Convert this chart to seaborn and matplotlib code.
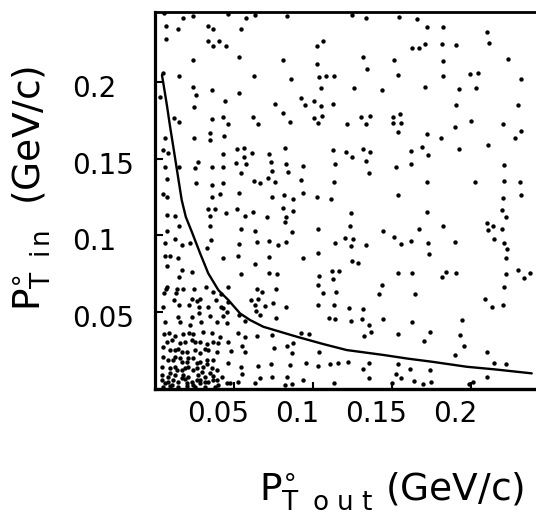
import numpy as np
import pandas as pd
import matplotlib
matplotlib.use("Agg")
import matplotlib.pyplot as plt
import matplotlib.transforms as mtransforms
import seaborn as sns

# ---- data (in MeV/c) ----
# events, grouped by area of the plot: (P_T out, P_T in)
events_upper_left = [
    (5.7,244.8),(17.9,242.0),(24.3,243.3),(46.0,244.4),(57.6,242.0),(63.5,243.7),(83.8,243.0),
    (6.8,236.5),(14.8,234.6),(33.3,236.3),(36.9,234.8),(54.6,234.4),
    (6.8,227.8),(33.3,227.0),(40.5,227.0),(36.9,223.7),(45.2,223.3),(102.3,223.7),(106.6,227.0),
    (23.8,214.6),(53.4,216.1),(81.2,214.1),(102.8,211.5),
    (4.9,206.1),(15.2,204.1),(62.7,204.1),(85.9,202.2),(103.6,203.3),(108.5,204.1),(113.5,204.1),
    (23.8,197.0),(36.1,194.6),(53.0,193.1),(105.3,195.9),(26.2,191.3),(3.4,190.0),
    (44.5,187.4),(75.7,185.4),(92.4,189.8),(100.4,187.6),(95.0,185.0),(105.3,184.6),(112.9,185.4),
    (24.9,183.7),(81.2,179.6),(12.0,176.3),(15.0,174.1),(36.1,176.1),(42.8,177.2),(46.0,172.8),
    (61.8,177.0),(65.4,172.8),(85.5,174.1),(100.4,176.3),(103.0,173.5),(105.5,178.1),
    (6.5,163.7),(24.5,163.5),(34.8,166.5),(35.0,162.0),(43.9,164.8),
    (4.9,155.7),(8.4,153.9),(51.7,156.3),(56.5,157.0),(61.2,153.7),(43.0,153.3),(56.5,151.3),
    (72.2,153.3),(82.1,157.0),(112.5,155.9),
    (6.3,144.8),(15.4,144.8),(25.1,143.7),(27.0,147.6),(36.1,144.4),(43.0,144.4),(51.5,147.2),
    (57.6,146.5),(73.6,148.0),(82.9,146.5),(93.5,145.4),(113.9,146.5),
    (54.6,140.4),(74.1,142.2),(84.0,141.5),
    (7.4,136.5),(26.0,134.4),(36.1,133.0),(43.0,134.1),(62.7,135.7),(66.5,134.1),(71.7,137.6),
    (76.0,134.6),(92.2,136.1),(113.1,134.8),
]
events_upper_right = [
    (124.5,243.7),(133.6,241.5),(154.7,242.6),(166.1,241.1),(172.0,236.1),(182.1,235.7),
    (209.9,232.6),(211.4,225.7),
    (162.7,222.4),(166.9,222.4),(170.7,224.6),(181.9,224.8),(190.7,224.1),
    (131.5,216.1),(151.5,214.4),(182.1,213.5),(223.2,215.0),(134.0,208.5),
    (154.0,204.6),(182.1,204.1),(199.4,205.0),(204.5,205.7),(231.5,202.0),
    (126.0,196.3),(143.7,195.0),(170.9,196.7),(192.4,195.2),(203.4,195.9),
    (190.7,185.0),(230.0,185.0),
    (130.2,177.4),(136.3,177.8),(150.9,177.0),(154.9,178.9),(121.5,172.8),(133.8,172.8),
    (150.7,173.1),(155.7,173.3),(200.2,174.8),(220.3,172.8),(190.1,170.9),
    (153.8,167.6),(172.0,166.3),(181.2,163.7),(231.3,168.1),(227.9,163.7),(210.8,158.9),
    (120.7,154.6),(124.5,150.9),(131.9,156.3),(136.1,154.4),(133.6,148.5),(162.3,155.0),
    (169.2,157.4),(172.8,152.6),(192.6,156.1),
    (161.8,146.7),(152.6,144.6),(220.7,145.7),(135.7,140.9),
    (172.4,134.8),(202.8,135.0),(220.9,135.7),(230.8,135.0),
]
events_lower_left = [
    (5.3,126.7),(7.8,124.8),(35.9,124.8),(41.4,126.7),(53.2,127.4),(73.9,125.2),(81.9,126.3),
    (87.1,123.7),(93.5,127.4),(102.8,124.8),(111.4,123.7),
    (33.3,117.2),(38.0,117.2),(44.7,114.8),(52.1,117.2),(62.2,115.4),(80.8,117.6),(87.1,116.1),
    (7.4,113.3),(12.9,112.8),(34.8,112.6),(56.8,112.6),(71.1,112.2),(82.7,111.7),(82.1,108.7),
    (15.4,106.1),(34.8,106.1),(7.8,103.0),(54.6,103.9),(63.3,103.0),(86.7,102.2),(103.0,104.4),
    (12.7,97.4),(6.3,94.8),(17.3,93.7),(22.2,94.8),(35.4,97.0),(32.9,91.5),(53.2,94.4),
    (64.4,95.4),(72.2,96.3),(77.9,93.9),(82.7,95.4),(113.9,94.8),
    (6.5,86.7),(9.5,86.5),(14.8,85.0),(42.8,85.4),(52.5,86.5),(72.2,85.9),(93.9,85.0),(103.4,88.3),
    (7.8,80.0),(63.5,81.5),(17.3,77.4),(23.2,75.9),(15.2,72.6),(54.6,74.6),(72.4,75.2),
    (77.4,74.6),(112.0,76.7),(116.7,76.7),(104.0,73.5),(112.5,71.5),
    (7.8,66.5),(6.8,65.0),(13.7,65.2),(17.5,65.0),(24.7,64.8),(32.3,66.1),(46.0,66.1),
    (64.8,64.8),(76.6,64.8),(103.4,67.6),
    (5.7,62.6),(13.3,62.2),(36.9,63.3),(42.0,61.7),(67.5,62.8),(106.3,62.2),(114.6,62.8),
    (12.2,57.8),(23.2,58.5),(26.4,57.4),(28.5,58.5),(38.4,57.8),(46.4,56.7),(60.8,57.8),
    (65.0,58.7),(74.7,56.1),
    (5.3,53.5),(15.2,54.6),(21.5,54.6),(28.1,53.5),(33.8,53.0),(41.8,53.0),(63.3,54.6),
    (69.4,53.9),(82.9,53.0),(103.0,54.4),(113.3,54.8),
    (14.3,47.0),(23.2,47.0),(28.1,49.6),(34.8,47.4),(42.8,52.4),(42.8,47.4),(53.4,48.0),
    (63.7,50.9),(66.5,47.8),(76.6,45.9),(110.4,45.9),(113.9,45.2),
    (6.5,43.7),(15.8,43.7),(22.2,41.5),(28.9,43.7),(39.0,43.3),(45.8,43.0),(56.8,44.1),(45.4,50.2),
    (5.7,35.7),(9.1,36.1),(12.7,34.6),(17.9,35.7),(21.7,36.5),(23.8,35.7),(30.6,37.2),
    (35.9,36.1),(41.1,33.9),(52.8,36.1),(57.0,33.9),(64.4,34.6),(73.9,35.0),(92.2,36.1),(97.7,35.7),
    (7.4,30.7),(15.8,30.0),(25.3,30.7),(32.7,29.1),(46.4,30.7),(54.9,27.8),(75.3,26.3),
    (83.3,27.8),(87.6,29.6),
    (5.3,27.4),(9.5,25.2),(14.8,25.7),(20.0,24.1),(28.5,23.5),(31.7,25.7),(39.0,24.1),
    (48.1,24.3),(57.0,24.1),(86.5,23.0),(104.0,24.1),
    (5.3,20.9),(8.4,18.7),(12.7,20.9),(16.9,17.6),(21.1,19.8),(26.4,16.5),(32.7,16.1),
    (36.9,18.7),(46.4,16.5),(54.2,14.3),(65.4,15.0),(73.2,16.1),(85.5,15.4),(95.4,17.0),
    (103.4,14.8),(110.8,16.1),(116.1,17.0),
    (4.2,14.3),(9.5,13.3),(13.7,12.2),(19.0,13.3),(24.3,12.2),(29.5,11.1),(34.8,10.4),
    (42.2,7.8),(54.9,9.3),(66.5,7.2),(73.9,7.8),(83.3,7.8),(93.5,5.7),
    (4.6,8.9),(8.4,7.8),(12.7,8.9),(16.9,6.7),(21.1,7.8),(26.4,5.7),(31.7,4.6),(36.9,5.7),
    (47.5,3.9),(52.8,4.6),(63.3,3.9),(82.3,2.4),(86.5,2.8),(113.3,3.5),
    (6.3,3.9),(10.5,2.4),(14.8,4.6),(20.0,3.5),(24.3,2.4),(28.5,3.9),(40.1,2.4),(45.4,3.5),
]
events_corner = [
    (10.5,31.7),(19.0,30.7),(23.2,31.7),(28.5,30.7),(36.9,30.7),(40.1,29.6),
    (12.7,25.2),(16.9,24.1),(25.3,25.2),(33.8,25.2),
    (11.6,18.7),(15.8,19.8),(20.0,17.6),(24.3,19.8),(28.5,17.6),(32.7,18.7),
    (12.7,14.3),(16.9,12.2),(21.1,14.3),(26.4,13.3),(30.6,14.3),(35.9,13.3),(39.0,12.2),
    (9.5,10.0),(17.9,8.9),(27.4,8.9),(31.7,7.8),(36.9,8.3),
    (4.2,5.7),(8.4,4.6),(11.6,5.7),(19.0,6.1),(23.2,4.6),(28.5,5.7),(33.8,4.6),(39.0,5.7),
    (5.3,1.3),(9.5,1.7),(14.8,0.9),(20.0,1.7),(25.3,0.9),(31.7,1.3),(38.0,1.3),
]
events_lower_right = [
    (154.0,126.3),(220.5,124.1),(231.5,126.5),(123.9,114.4),(172.0,115.0),(219.4,116.5),
    (222.2,111.7),(210.4,108.3),(214.2,106.3),(123.2,105.9),(182.1,106.1),(144.5,103.0),
    (167.3,104.1),(211.0,103.5),(219.9,103.9),
    (120.1,98.0),(125.1,97.8),(151.5,98.7),(214.6,97.4),(124.1,93.0),(133.6,93.5),(155.9,94.6),
    (161.8,96.5),(173.0,95.2),(189.7,95.9),(220.9,95.2),(223.0,90.9),(173.4,87.8),
    (124.5,83.5),(128.7,82.2),(222.2,85.4),(154.0,75.2),(162.7,75.2),(181.5,73.0),(184.2,75.9),
    (190.5,75.7),(222.2,74.8),(229.6,77.4),(233.2,72.0),(237.6,75.2),
    (143.5,67.6),(142.0,62.0),(164.6,61.7),(220.9,66.5),(208.9,58.3),(213.1,53.5),(220.3,54.4),
    (122.6,52.8),(131.7,52.0),
    (123.9,44.3),(131.2,45.2),(144.1,45.7),(162.7,43.5),(194.1,44.8),(135.5,41.7),(136.5,37.2),
    (132.5,34.3),(153.6,35.4),(174.1,37.2),(193.1,34.8),(170.5,31.3),(195.8,27.8),(190.1,22.2),
    (209.9,23.7),
    (122.2,17.4),(135.5,17.0),(153.6,16.1),(214.8,17.0),(222.2,15.9),(131.7,12.8),(161.6,12.6),
    (174.1,12.2),(135.2,7.2),(152.6,9.3),(155.7,7.2),(163.9,5.0),(169.6,3.0),(174.7,4.1),
    (150.2,3.9),(201.1,4.6),(199.0,3.0),(209.9,7.8),
]
# boundary curve (MeV/c)
curve_p_out = [4.4, 5.3, 7.5, 9.6, 12.0, 14.6, 16.9, 19.5, 23.4, 28.5, 33.7, 40.1, 46.4, 53.8,
               60.1, 68.5, 81.2, 89.7, 106.5, 121.3, 144.5, 160.0, 175.1, 197.3, 215.0, 238.4]
curve_p_in = [204.5, 199.0, 185.0, 170.5, 155.0, 138.0, 123.0, 112.0, 102.0, 88.4, 75.2, 64.3,
              57.8, 49.1, 44.8, 40.4, 36.5, 33.9, 29.1, 25.2, 22.0, 19.6, 17.6, 14.3, 12.6, 10.0]

x_ticks = [0.05, 0.1, 0.15, 0.2]
x_tick_labels = ["0.05", "0.1", "0.15", "0.2"]
y_ticks = [0.05, 0.1, 0.15, 0.2]
y_tick_labels = ["0.05", "0.1", "0.15", "0.2"]

# ---- build tables ----
all_events = (events_upper_left + events_upper_right + events_lower_left
              + events_corner + events_lower_right)
df = pd.DataFrame(all_events, columns=["p_out", "p_in"]) / 1000.0   # GeV/c
curve = pd.DataFrame({"p_out": np.array(curve_p_out) / 1000.0,
                      "p_in": np.array(curve_p_in) / 1000.0})

sns.set_theme(style="white")
plt.rcParams["font.family"] = ["DejaVu Sans"]
plt.rcParams["mathtext.fontset"] = "dejavusans"
plt.rcParams["text.color"] = "black"
plt.rcParams["xtick.color"] = "black"
plt.rcParams["ytick.color"] = "black"
plt.rcParams["xtick.labelcolor"] = "black"
plt.rcParams["ytick.labelcolor"] = "black"

W, H = 536, 521
fig = plt.figure(figsize=(W / 100, H / 100), dpi=100)
fig.patch.set_facecolor("white")
ax = fig.add_axes([155 / W, (H - 388.7) / H, (W - 155) / W, (388.7 - 12) / H])
ax.set_facecolor("white")

sns.scatterplot(data=df, x="p_out", y="p_in", color="black", s=10, linewidth=0,
                marker="o", legend=False, ax=ax)
sns.lineplot(data=curve, x="p_out", y="p_in", sort=False, color="black",
             linewidth=1.7, ax=ax)

ax.set_xlim(0, 0.2411)
ax.set_ylim(0, 0.2456)
ax.set_xlabel("")
ax.set_ylabel("")

for side, lw in [("left", 2.3), ("top", 2.0), ("bottom", 2.4)]:
    ax.spines[side].set_visible(True)
    ax.spines[side].set_color("black")
    ax.spines[side].set_linewidth(lw)
ax.spines["right"].set_visible(False)

ax.set_xticks(x_ticks)
ax.set_xticklabels(x_tick_labels)
ax.set_yticks(y_ticks)
ax.set_yticklabels(y_tick_labels)
ax.tick_params(axis="x", direction="in", length=5, width=1.5, colors="black",
               labelsize=20, pad=8, bottom=True, top=False)
ax.tick_params(axis="y", direction="in", length=6, width=1.5, colors="black",
               labelsize=20, pad=60, left=True, right=False)

dx = mtransforms.ScaledTranslation(-16 / 100, 0, fig.dpi_scale_trans)
for lab in ax.get_xticklabels():
    lab.set_transform(lab.get_transform() + dx)
dy = mtransforms.ScaledTranslation(0, -4 / 100, fig.dpi_scale_trans)
for lab in ax.get_yticklabels():
    lab.set_horizontalalignment("left")
    lab.set_transform(lab.get_transform() + dy)

fig.text(259 / W, (H - 500) / H,
         r"$\mathrm{P}^{\circ}_{\mathrm{T\;\;o\,\,u\,\,t}}$ (GeV/c)",
         fontsize=27, ha="left", va="baseline", color="black")
fig.text(32 / W, (H - 188) / H,
         r"$\mathrm{P}^{\circ}_{\mathrm{T\;\;i\,n}}$  (GeV/c)",
         fontsize=27, ha="center", va="center", rotation=90, color="black")

fig.savefig("out.png", dpi=100, facecolor="white")
